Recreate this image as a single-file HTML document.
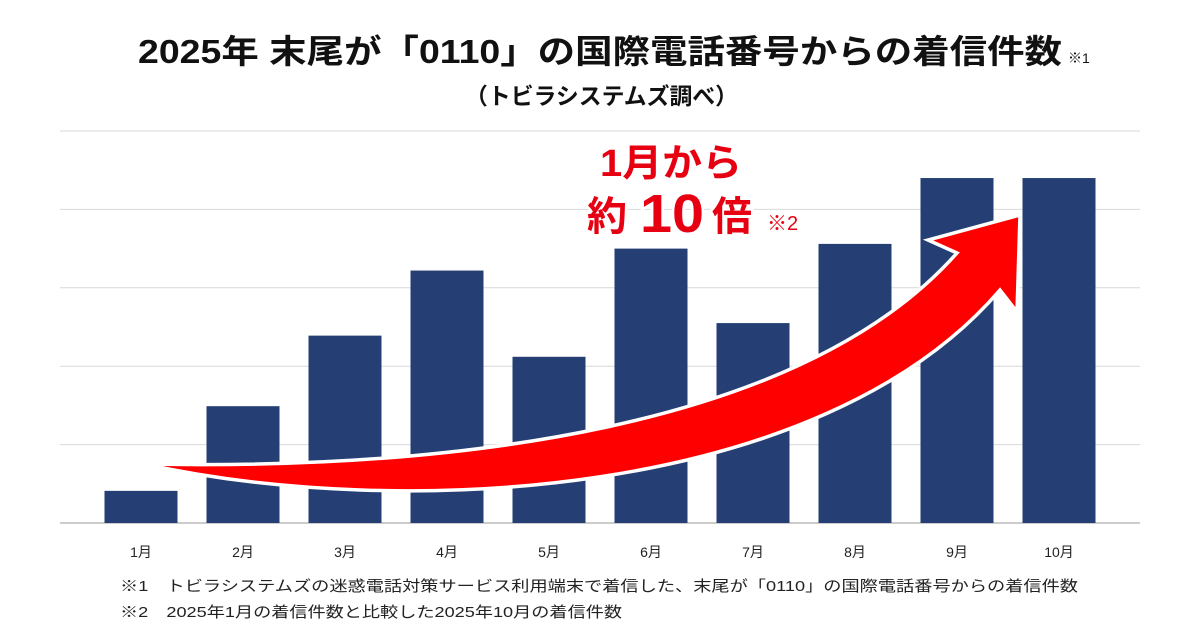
<!DOCTYPE html>
<html><head><meta charset="utf-8"><style>
body{margin:0;background:#fff;}
#wrap{position:relative;width:1200px;height:630px;overflow:hidden;font-family:"Liberation Sans","Noto Sans CJK JP",sans-serif;}
</style></head><body>
<div id="wrap">
<svg id="chart" width="1200" height="630"></svg>
</div>
<script>
const categories=["1月","2月","3月","4月","5月","6月","7月","8月","9月","10月"];
const values=[0.41,1.49,2.39,3.22,2.12,3.50,2.55,3.56,4.40,4.40];
const gridTicks=[0,1,2,3,4,5];
const NS="http://www.w3.org/2000/svg";
const svg=document.getElementById('chart');
const x0=60,x1=1140,yBase=523,unit=78.4,step=102,barW=73;
function yScale(v){return yBase-v*unit;}
function xCenter(i){return 141+i*step;}
function mk(tag,attrs,parent){const e=document.createElementNS(NS,tag);for(const k in attrs)e.setAttribute(k,attrs[k]);(parent||svg).appendChild(e);return e;}
gridTicks.forEach(t=>{
 const l=mk('line',{x1:x0,x2:x1,y1:yScale(t),y2:yScale(t),stroke:t===0?'#bbb':'#d9d9d9','stroke-width':t===0?1.5:1});
 
 
});
values.forEach((v,i)=>{
 const r=mk('rect',{x:xCenter(i)-barW/2,y:yScale(v),width:barW,height:yBase-yScale(v),fill:'#253f74'});
 
 
 const t=mk('text',{x:xCenter(i),y:557,'text-anchor':'middle','font-size':14,fill:'#222'});
 t.textContent=categories[i];
 
 
});
</script>
<svg width="1200" height="630" style="position:absolute;left:0;top:0">
<path d="M144,464 C 400,520 820,500 1000,290 L1017,312 L1020,215 L928,240 L957,253 C 800,430 450,470 144,464 Z" fill="#ff0000" stroke="#fff" stroke-width="3.5" stroke-linejoin="miter"/>
<text x="138" y="63" textLength="924" lengthAdjust="spacingAndGlyphs" font-size="33" font-weight="bold" fill="#111" font-family="Liberation Sans,Noto Sans CJK JP,sans-serif">2025年 末尾が「0110」の国際電話番号からの着信件数</text>
<text x="1068" y="63" font-size="14" fill="#111" font-family="Liberation Sans,Noto Sans CJK JP,sans-serif">※1</text>
<text x="465" y="104" textLength="273" lengthAdjust="spacingAndGlyphs" font-size="23" font-weight="bold" fill="#111" font-family="Liberation Sans,Noto Sans CJK JP,sans-serif">（トビラシステムズ調べ）</text>
<g font-family="Liberation Sans,Noto Sans CJK JP,sans-serif" font-weight="bold" fill="#e60012" stroke="#fff" stroke-width="5" paint-order="stroke">
<text x="600" y="176" textLength="142" lengthAdjust="spacingAndGlyphs" font-size="38">1月から</text>
<text x="587" y="230" font-size="40">約</text>
<text x="640" y="232" font-size="54" textLength="64" lengthAdjust="spacingAndGlyphs">10</text>
<text x="712" y="230" font-size="40">倍</text>
<text x="767" y="230" font-size="20" font-weight="normal">※2</text>
</g>
<g font-family="Liberation Sans,Noto Sans CJK JP,sans-serif" font-size="15" fill="#222">
<text x="120" y="591" textLength="958" lengthAdjust="spacingAndGlyphs">※1　トビラシステムズの迷惑電話対策サービス利用端末で着信した、末尾が「0110」の国際電話番号からの着信件数</text>
<text x="120" y="617" textLength="502" lengthAdjust="spacingAndGlyphs">※2　2025年1月の着信件数と比較した2025年10月の着信件数</text>
</g>
</svg>
</body></html>
